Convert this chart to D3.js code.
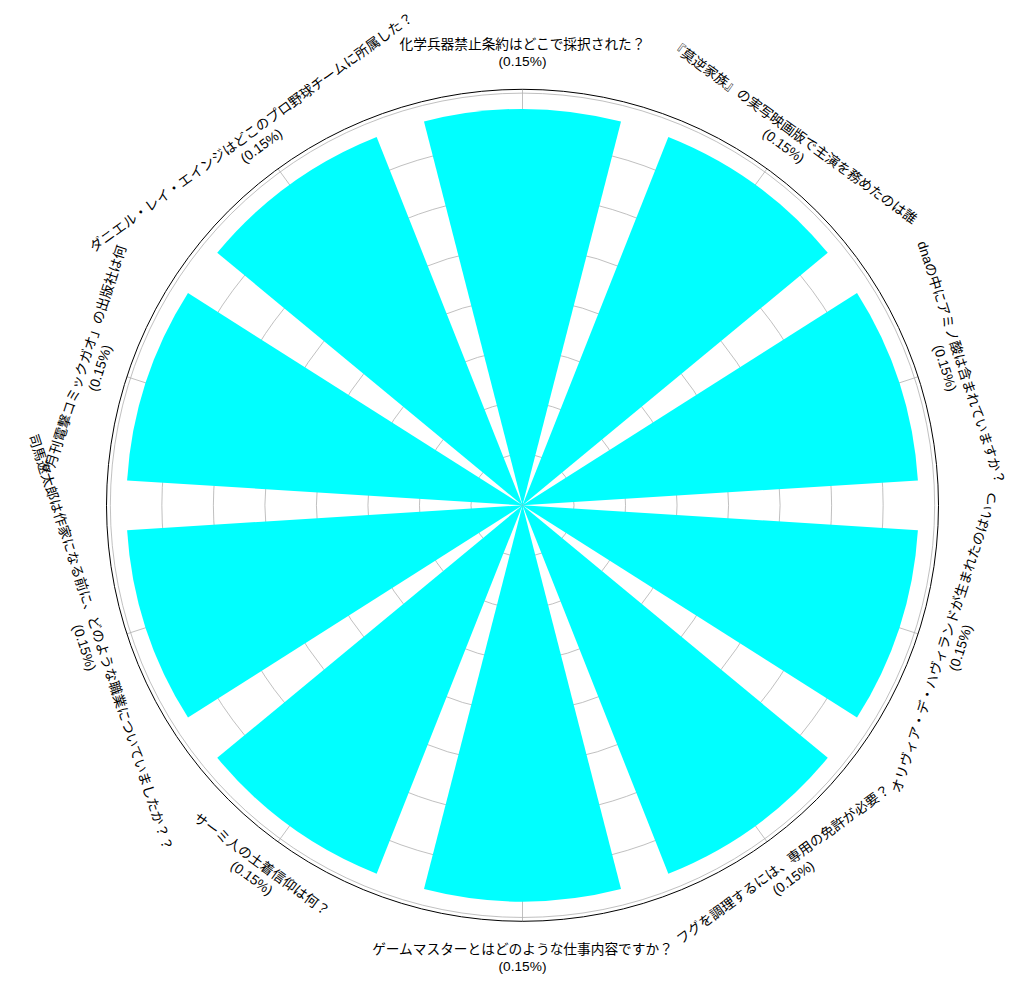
<!DOCTYPE html>
<html>
<head>
<meta charset="utf-8">
<script src="https://cdn.jsdelivr.net/npm/d3@7"></script>
<style>
  html, body { margin: 0; padding: 0; background: #ffffff; }
  svg { display: block; }
  text { font-family: "Liberation Sans", "Noto Sans CJK JP", "DejaVu Sans", sans-serif; fill: #000; }
</style>
</head>
<body>
<svg id="chart" width="1027" height="983"></svg>
<script>
// ---- data ----
const categories = [
  "化学兵器禁止条約はどこで採択された？",
  "『莫逆家族』の実写映画版で主演を務めたのは誰",
  "dnaの中にアミノ酸は含まれていますか？",
  "オリヴィア・デ・ハヴィランドが生まれたのはいつ",
  "フグを調理するには、専用の免許が必要？",
  "ゲームマスターとはどのような仕事内容ですか？",
  "サーミ人の土着信仰は何？",
  "司馬遼太郎は作家になる前に、どのような職業についていましたか？？",
  "「月刊電撃コミックガオ」の出版社は何",
  "ダニエル・レイ・エインジはどこのプロ野球チームに所属した？"
];
const values = [0.1538, 0.1538, 0.1538, 0.1538, 0.1538, 0.1538, 0.1538, 0.1538, 0.1538, 0.1538];
const valueLabels = ["(0.15%)", "(0.15%)", "(0.15%)", "(0.15%)", "(0.15%)", "(0.15%)", "(0.15%)", "(0.15%)", "(0.15%)", "(0.15%)"];
const radialTicks = [0.02, 0.04, 0.06, 0.08, 0.10, 0.12, 0.14, 0.16];

// ---- layout ----
const cx = 522.5, cy = 505.3, outerR = 416, labelR = 452.5, lineOff = 8.4;
const n = categories.length;
const rMax = d3.max(values) * 1.05;

const svg = d3.select("#chart");
const g = svg.append("g").attr("transform", `translate(${cx},${cy})`);

const angle = d3.scaleLinear().domain([0, n]).range([0, 2 * Math.PI]);
const r = d3.scaleLinear().domain([0, rMax]).range([0, outerR]);
const barWidth = (angle(1) - angle(0)) * 0.8;

// grid circles
g.append("g").selectAll("circle").data(radialTicks).join("circle")
  .attr("r", d => r(d))
  .attr("fill", "none")
  .attr("stroke", "#b0b0b0")
  .attr("stroke-width", 0.8);

// spokes
g.append("g").selectAll("line").data(categories).join("line")
  .attr("x1", 0).attr("y1", 0)
  .attr("x2", (d, i) => outerR * Math.sin(angle(i)))
  .attr("y2", (d, i) => -outerR * Math.cos(angle(i)))
  .attr("stroke", "#b0b0b0")
  .attr("stroke-width", 0.8);

// bars
const arc = d3.arc()
  .innerRadius(0)
  .outerRadius(d => r(d.v))
  .startAngle(d => angle(d.i) - barWidth / 2)
  .endAngle(d => angle(d.i) + barWidth / 2);

g.append("g").selectAll("path").data(values.map((v, i) => ({ v, i }))).join("path")
  .attr("d", arc)
  .attr("fill", "#00ffff");

// outer spine
g.append("circle").attr("r", outerR)
  .attr("fill", "none").attr("stroke", "#000").attr("stroke-width", 1);

// labels
const labels = g.append("g").selectAll("text").data(categories).join("text")
  .attr("font-size", "13.7px")
  .attr("text-anchor", "middle")
  .attr("transform", (d, i) => {
    const a = angle(i);
    const deg0 = a * 180 / Math.PI;
    let rot = deg0;
    if (deg0 > 90 && deg0 < 270) rot = deg0 - 180;
    else if (deg0 >= 270) rot = deg0 - 360;
    const x = labelR * Math.sin(a), y = -labelR * Math.cos(a);
    return `translate(${x},${y}) rotate(${rot})`;
  });
labels.append("tspan").attr("x", 0).attr("y", -lineOff).attr("dominant-baseline", "central").text(d => d);
labels.append("tspan").attr("x", 0).attr("y", lineOff).attr("dominant-baseline", "central").text((d, i) => valueLabels[i]);
</script>
</body>
</html>
